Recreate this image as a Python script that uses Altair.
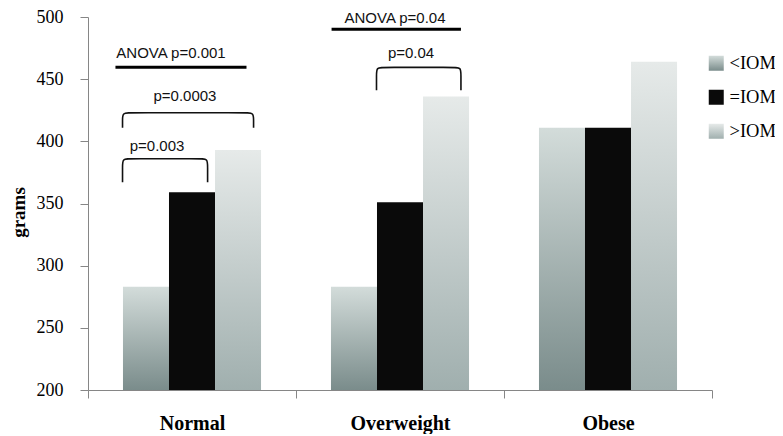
import altair as alt
import pandas as pd

# ---- data ----
categories = ["Normal", "Overweight", "Obese"]
series = ["<IOM", "=IOM", ">IOM"]
values_lt = [283, 283, 411]
values_eq = [359, 351, 411]
values_gt = [393, 436, 464]
y_ticks = [200, 250, 300, 350, 400, 450, 500]

# annotations (x in category units: 0..3, y in grams)
ann_text = ["ANOVA p=0.001", "p=0.0003", "p=0.003", "ANOVA p=0.04", "p=0.04"]
ann_x = [0.399, 0.466, 0.332, 1.476, 1.553]
ann_y = [470.8, 436.7, 396.2, 499.0, 470.8]

anova_x1 = [0.132, 1.171]
anova_x2 = [0.762, 1.793]
anova_y = [459.5, 490.2]

bracket_x1 = [0.166, 0.166, 1.387]
bracket_x2 = [0.796, 0.575, 1.793]
bracket_top = [423.0, 386.0, 459.5]
bracket_bottom = [411.0, 367.0, 441.0]

# ---- tables ----
rows = []
for i, c in enumerate(categories):
    for s, vals in zip(series, [values_lt, values_eq, values_gt]):
        rows.append({"category": c, "series": s, "grams": vals[i]})
bars_df = pd.DataFrame(rows)

text_df = pd.DataFrame({"label": ann_text, "x": ann_x, "y": ann_y})
anova_df = pd.DataFrame({"x1": anova_x1, "x2": anova_x2, "y": anova_y})

corner_x = 0.035
corner_y = 6.0
brows = []
for b, (x1, x2, t, bt) in enumerate(zip(bracket_x1, bracket_x2, bracket_top, bracket_bottom)):
    pts = [(x1, bt), (x1, t - corner_y), (x1, t), (x1 + corner_x, t),
           (x2 - corner_x, t), (x2, t), (x2, t - corner_y), (x2, bt)]
    for k, (px, py) in enumerate(pts):
        brows.append({"b": b, "k": k, "x": px, "y": py})
bracket_df = pd.DataFrame(brows)

grad_lt = ("{gradient: 'linear', x1: 0, y1: 1, x2: 0, y2: 0, stops: "
           "[{offset: 0, color: '#7a8c8b'}, {offset: 1, color: '#d3dcda'}]}")
grad_gt = ("{gradient: 'linear', x1: 0, y1: 1, x2: 0, y2: 0, stops: "
           "[{offset: 0, color: '#a0afae'}, {offset: 1, color: '#e6eae9'}]}")

SERIF = "Liberation Serif"
SANS = "Liberation Sans"
AXIS_GREY = "#868686"

yscale = alt.Scale(domain=[200, 500], nice=False, zero=False)
y_axis = alt.Axis(values=y_ticks, title="grams", labelFont=SERIF, labelFontSize=18,
                  labelColor="black", tickSize=8, labelPadding=17,
                  titleFont=SERIF, titleFontSize=19, titleFontWeight="bold",
                  titleColor="black", titleX=-70, titleY=195, titleBaseline="middle",
                  domainColor=AXIS_GREY, tickColor=AXIS_GREY, grid=False)
xq = alt.Scale(domain=[0, 3], nice=False, zero=False)

bars = alt.Chart(bars_df).mark_bar(strokeWidth=0).encode(
    x=alt.X("category:N", sort=categories,
            scale=alt.Scale(paddingInner=0, paddingOuter=0),
            axis=alt.Axis(title=None, labelAngle=0, tickBand="extent", tickSize=8,
                          labelFont=SERIF, labelFontSize=20, labelFontWeight="bold",
                          labelColor="black", labelPadding=15,
                          domainColor=AXIS_GREY, tickColor=AXIS_GREY, grid=False)),
    xOffset=alt.XOffset("series:N", sort=series,
                        scale=alt.Scale(paddingInner=0, paddingOuter=0.76)),
    y=alt.Y("grams:Q", scale=yscale, axis=y_axis),
    y2=alt.datum(200),
    color=alt.Color("series:N", sort=series,
                    scale=alt.Scale(domain=series,
                                    range=[{"expr": grad_lt}, "#0a0a0a", {"expr": grad_gt}]),
                    legend=alt.Legend(title=None, orient="none", legendX=619, legendY=37,
                                      symbolType="square", symbolSize=225,
                                      symbolStrokeWidth=0, labelFont=SERIF,
                                      labelFontSize=18.5, labelColor="black",
                                      rowPadding=15, labelOffset=4, padding=0)),
)

texts = alt.Chart(text_df).mark_text(font=SANS, fontSize=15, color="#111111",
                                     baseline="middle").encode(
    x=alt.X("x:Q", scale=xq, axis=None),
    y=alt.Y("y:Q", scale=yscale, axis=y_axis),
    text="label:N",
)

anova = alt.Chart(anova_df).mark_rule(strokeWidth=3, color="black").encode(
    x=alt.X("x1:Q", scale=xq, axis=None),
    x2="x2:Q",
    y=alt.Y("y:Q", scale=yscale, axis=y_axis),
)

brackets = alt.Chart(bracket_df).mark_line(strokeWidth=1.6, color="#111111",
                                           interpolate="basis").encode(
    x=alt.X("x:Q", scale=xq, axis=None),
    y=alt.Y("y:Q", scale=yscale, axis=y_axis),
    detail="b:N",
    order=alt.Order("k:Q"),
)

chart = alt.layer(bars, anova, brackets, texts).resolve_scale(
    x="independent"
).properties(
    width=624, height=373,
    padding={"left": 80, "top": 9, "right": 63, "bottom": 44},
    autosize=alt.AutoSizeParams(type="none"),
).configure_view(stroke=None)

chart.save("out.html", embed_options={"renderer": "svg", "actions": False})
